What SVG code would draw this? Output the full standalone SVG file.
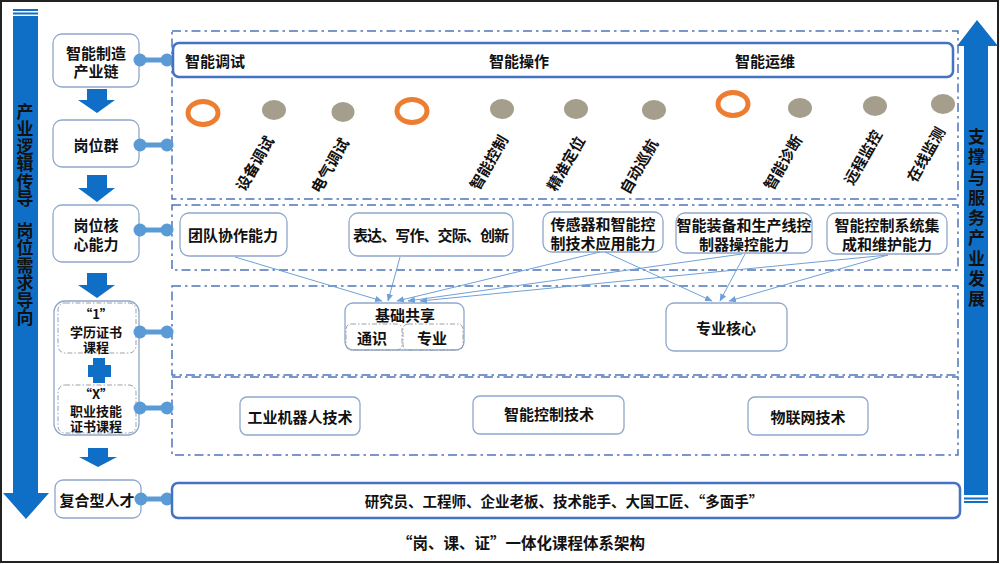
<svg xmlns="http://www.w3.org/2000/svg" width="1000" height="564" viewBox="0 0 1000 564">
<style>
text{font-family:"Noto Sans CJK SC","Liberation Sans",sans-serif;font-weight:bold;fill:#111;}
.t15{font-size:15px;text-anchor:middle;dominant-baseline:central;}
.t14{font-size:14.5px;text-anchor:middle;dominant-baseline:central;}
.t13{font-size:13px;text-anchor:middle;dominant-baseline:central;}
.node{fill:#fff;stroke:#8EA7CB;stroke-width:1.3;}
.inner{fill:none;stroke:#9A9FA8;stroke-width:1;stroke-dasharray:5 2 1.5 2;}
.region{fill:none;stroke:#4F74BD;stroke-width:1.5;stroke-dasharray:9 4 2.5 4;}
.band{fill:#fff;stroke:#4472C4;stroke-width:2.5;}
.blue{fill:#0F6FC6;}
.gray{fill:#A69E8C;}
.ring{fill:none;stroke:#ED7D31;stroke-width:5;}
.bell line{stroke:#5B9BD5;stroke-width:5;}
.bell circle{fill:#5B9BD5;}
.arr{stroke:#6FA1D6;stroke-width:1;fill:none;marker-end:url(#ah);}
.vert{font-size:17px;writing-mode:vertical-rl;dominant-baseline:central;}
.rot{font-size:15px;text-anchor:middle;dominant-baseline:central;}
</style>
<defs>
<marker id="ah" markerWidth="8" markerHeight="8" refX="7" refY="4" orient="auto" markerUnits="userSpaceOnUse">
<path d="M0,0.8 L7.5,4 L0,7.2 Z" fill="#6FA1D6"/>
</marker>
</defs>
<rect x="1" y="1" width="997" height="561" fill="#fff" stroke="#222" stroke-width="2"/>

<!-- left big arrow -->
<g id="left-arrow">
<rect class="blue" x="13" y="9" width="25" height="2"/>
<rect class="blue" x="13" y="12.5" width="25" height="2"/>
<polygon class="blue" points="13,16 38,16 38,493 49,493 26,519 3,493 13,493"/>
<text class="vert" x="25" y="103" style="letter-spacing:0.5px">产业逻辑传导</text>
<text class="vert" x="25" y="222" style="letter-spacing:0.5px">岗位需求导向</text>
</g>

<!-- right big arrow -->
<g id="right-arrow">
<polygon class="blue" points="964,495 964,46 957,46 977,20 998,46 988,46 988,495"/>
<rect class="blue" x="964" y="497.5" width="24" height="2"/>
<rect class="blue" x="964" y="501" width="24" height="2"/>
<text class="vert" x="976.5" y="128" style="letter-spacing:3.3px">支撑与服务产业发展</text>
</g>

<!-- regions -->
<g id="regions">
<rect class="region" x="172" y="31" width="786" height="168"/>
<rect class="region" x="172" y="205" width="786" height="65"/>
<rect class="region" x="172" y="286" width="786" height="89"/>
<rect class="region" x="172" y="377" width="786" height="78"/>
</g>

<!-- left column nodes -->
<g id="n-chain">
<rect class="node" x="53" y="34" width="86" height="53" rx="9"/>
<text class="t15" x="96" y="52">智能制造</text>
<text class="t15" x="96" y="70">产业链</text>
</g>
<g id="n-group">
<rect class="node" x="53" y="120" width="86" height="47" rx="9"/>
<text class="t15" x="96" y="144">岗位群</text>
</g>
<g id="n-core">
<rect class="node" x="53" y="205" width="86" height="57" rx="9"/>
<text class="t15" x="96" y="224">岗位核</text>
<text class="t15" x="96" y="243">心能力</text>
</g>
<g id="n-1x">
<rect class="node" x="54" y="301" width="85" height="134" rx="11"/>
<rect class="inner" x="58" y="303" width="78" height="50" rx="7"/>
<text class="t13" x="96" y="313">“1”</text>
<text class="t13" x="96" y="331">学历证书</text>
<text class="t13" x="96" y="346">课程</text>
<path class="blue" d="M93,358 h12 v7 h6 v12 h-6 v6 h-12 v-6 h-5 v-12 h5 z"/>
<rect class="inner" x="58" y="385" width="78" height="48" rx="7"/>
<text class="t13" x="96" y="393">“X”</text>
<text class="t13" x="96" y="410">职业技能</text>
<text class="t13" x="96" y="425">证书课程</text>
</g>
<g id="n-talent">
<rect class="node" x="55" y="480" width="86" height="38" rx="8"/>
<text class="t15" x="97" y="499">复合型人才</text>
</g>

<!-- block arrows down -->
<g id="down-arrows">
<polygon class="blue" points="87,89 107,89 107,100 115,100 97,113 78,100 87,100"/>
<polygon class="blue" points="87,175 107,175 107,188 115,188 97,202 78,188 87,188"/>
<polygon class="blue" points="87,273 107,273 107,285 115,285 97,298 78,285 87,285"/>
<polygon class="blue" points="88,448 108,448 108,457 117,457 98,467 79,457 88,457"/>
</g>

<!-- dumbbell connectors -->
<g id="bells" class="bell">
<line x1="140" y1="60" x2="167" y2="60"/><circle cx="140" cy="60" r="6.5"/><circle cx="167" cy="60" r="6.5"/>
<line x1="140" y1="145" x2="167" y2="145"/><circle cx="140" cy="145" r="6.5"/><circle cx="167" cy="145" r="6.5"/>
<line x1="140" y1="230" x2="167" y2="230"/><circle cx="140" cy="230" r="6.5"/><circle cx="167" cy="230" r="6.5"/>
<line x1="140" y1="332" x2="167" y2="332"/><circle cx="140" cy="332" r="6.5"/><circle cx="167" cy="332" r="6.5"/>
<line x1="140" y1="408" x2="167" y2="408"/><circle cx="140" cy="408" r="6.5"/><circle cx="167" cy="408" r="6.5"/>
<line x1="141" y1="499" x2="167" y2="499"/><circle cx="141" cy="499" r="6.5"/><circle cx="167" cy="499" r="6.5"/>
</g>

<!-- top band -->
<g id="top-band">
<rect class="band" x="173" y="43" width="780" height="34" rx="6"/>
<text x="185" y="60" style="font-size:15px;dominant-baseline:central">智能调试</text>
<text class="t15" x="519" y="60">智能操作</text>
<text class="t15" x="765" y="60">智能运维</text>
</g>

<!-- post dots -->
<g id="posts">
<ellipse class="ring" cx="203" cy="113" rx="15" ry="11.5"/>
<ellipse class="gray" cx="274" cy="110" rx="12" ry="10"/>
<ellipse class="gray" cx="343" cy="112" rx="11.5" ry="10"/>
<ellipse class="ring" cx="412" cy="111" rx="15" ry="11.5"/>
<ellipse class="gray" cx="502" cy="109" rx="12" ry="10"/>
<ellipse class="gray" cx="576" cy="109" rx="12" ry="10"/>
<ellipse class="gray" cx="654" cy="110" rx="12" ry="10"/>
<ellipse class="ring" cx="733" cy="104" rx="15" ry="11.5"/>
<ellipse class="gray" cx="800" cy="108" rx="12" ry="10"/>
<ellipse class="gray" cx="875" cy="106" rx="12" ry="10"/>
<ellipse class="gray" cx="943" cy="104" rx="12" ry="10"/>
<text class="rot" transform="translate(254,163) rotate(-60)">设备调试</text>
<text class="rot" transform="translate(329,165) rotate(-60)">电气调试</text>
<text class="rot" transform="translate(488,162) rotate(-60)">智能控制</text>
<text class="rot" transform="translate(565,163) rotate(-60)">精准定位</text>
<text class="rot" transform="translate(638,166) rotate(-60)">自动巡航</text>
<text class="rot" transform="translate(782,162) rotate(-60)">智能诊断</text>
<text class="rot" transform="translate(862,157) rotate(-60)">远程监控</text>
<text class="rot" transform="translate(925,154) rotate(-60)">在线监测</text>
</g>

<!-- competence boxes -->
<g id="c-team">
<rect class="node" x="180" y="213" width="107" height="43" rx="9"/>
<text class="t15" x="233" y="234">团队协作能力</text>
</g>
<g id="c-comm">
<rect class="node" x="349" y="213" width="164" height="43" rx="9"/>
<text class="t15" x="431" y="234" textLength="156">表达、写作、交际、创新</text>
</g>
<g id="c-sensor">
<rect class="node" x="543" y="212" width="120" height="40" rx="9"/>
<text class="t15" x="603" y="223">传感器和智能控</text>
<text class="t15" x="603" y="242">制技术应用能力</text>
</g>
<g id="c-equip">
<rect class="node" x="676" y="213" width="136" height="40" rx="9"/>
<text class="t15" x="744" y="224">智能装备和生产线控</text>
<text class="t15" x="744" y="243">制器操控能力</text>
</g>
<g id="c-system">
<rect class="node" x="827" y="213" width="120" height="41" rx="9"/>
<text class="t15" x="887" y="224">智能控制系统集</text>
<text class="t15" x="887" y="243">成和维护能力</text>
</g>

<!-- course boxes -->
<g id="k-base">
<rect class="node" x="345" y="303" width="119" height="47" rx="8"/>
<text class="t15" x="405" y="314">基础共享</text>
<rect class="inner" x="346" y="324" width="56" height="26" rx="5"/>
<rect class="inner" x="403" y="324" width="60" height="26" rx="5"/>
<text class="t15" x="372" y="337">通识</text>
<text class="t15" x="432" y="337">专业</text>
</g>
<g id="k-core">
<rect class="node" x="666" y="303" width="121" height="48" rx="8"/>
<text class="t15" x="726" y="327">专业核心</text>
</g>
<g id="x-robot">
<rect class="node" x="240" y="397" width="120" height="38" rx="7"/>
<text class="t15" x="300" y="416">工业机器人技术</text>
</g>
<g id="x-control">
<rect class="node" x="473" y="396" width="151" height="38" rx="7"/>
<text class="t15" x="549" y="413">智能控制技术</text>
</g>
<g id="x-iot">
<rect class="node" x="748" y="397" width="120" height="38" rx="7"/>
<text class="t15" x="808" y="416">物联网技术</text>
</g>

<!-- bottom band -->
<g id="bottom-band">
<rect class="band" x="172" y="483" width="788" height="35" rx="6"/>
<text class="t14" x="564" y="500">研究员、工程师、企业老板、技术能手、大国工匠、“多面手”</text>
</g>

<!-- connectors -->
<g id="connectors">
<line class="arr" x1="235" y1="257" x2="382" y2="301"/>
<line class="arr" x1="400" y1="257" x2="388" y2="301"/>
<line class="arr" x1="600" y1="252" x2="397" y2="301"/>
<line class="arr" x1="742" y1="254" x2="408" y2="301"/>
<line class="arr" x1="888" y1="255" x2="420" y2="301"/>
<line class="arr" x1="605" y1="252" x2="712" y2="301"/>
<line class="arr" x1="745" y1="254" x2="720" y2="301"/>
<line class="arr" x1="888" y1="255" x2="729" y2="301"/>
</g>

<text class="t15" x="521" y="542" style="font-size:15.5px">“岗、课、证”一体化课程体系架构</text>
</svg>
